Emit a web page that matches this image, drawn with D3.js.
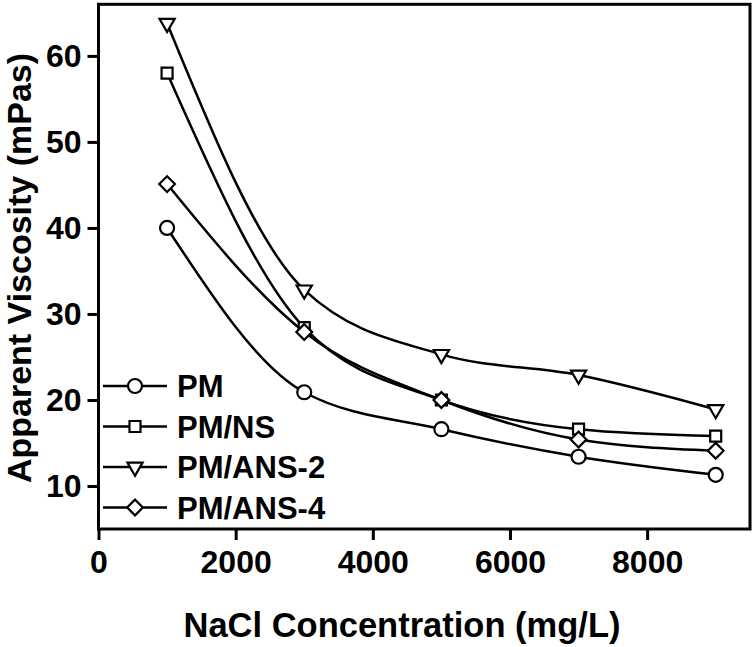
<!DOCTYPE html>
<html>
<head>
<meta charset="utf-8">
<script src="https://cdn.jsdelivr.net/npm/d3@7"></script>
<style>
  body { margin: 0; background: #fff; }
  svg { display: block; font-family: "Liberation Sans", Arial, sans-serif; font-weight: bold; }
  .axis text { font-size: 32px; font-weight: bold; fill: #000; }
  .axis line { stroke: #000; stroke-width: 3; }
</style>
</head>
<body>
<svg width="756" height="647"></svg>
<script>
// NaCl concentration (mg/L)
var concentrations = [1000, 3000, 5000, 7000, 9000];

// apparent viscosity (mPas) per sample
var pm      = [40.0, 20.9, 16.6, 13.4, 11.3];
var pmNs    = [58.0, 28.4, 20.0, 16.6, 15.8];
var pmAns2  = [63.8, 32.8, 25.3, 22.9, 18.9];
var pmAns4  = [45.1, 27.9, 20.0, 15.4, 14.1];

var seriesNames = ["PM", "PM/NS", "PM/ANS-2", "PM/ANS-4"];
var seriesValues = [pm, pmNs, pmAns2, pmAns4];

var xTicks = [0, 2000, 4000, 6000, 8000];
var yTicks = [10, 20, 30, 40, 50, 60];

var svg = d3.select("svg");

var x = d3.scaleLinear()
    .domain([0, 9500])
    .range([98.5, 750]);

var y = d3.scaleLinear()
    .domain([5, 66])
    .range([529, 4.3]);

// marker shapes, same order as seriesNames
var markers = [
  {type: d3.symbolCircle, size: 154, rotate: 0},
  {type: d3.symbolSquare, size: 121, rotate: 0},
  {type: d3.symbolTriangle, size: 100, rotate: 180},
  {type: d3.symbolSquare, size: 124, rotate: 45}
];

var line = d3.line()
    .x(function(d) { return x(d.x); })
    .y(function(d) { return y(d.y); })
    .curve(d3.curveMonotoneX);

// axes
svg.append("g")
    .attr("class", "axis")
    .attr("transform", "translate(0," + y.range()[0] + ")")
    .call(d3.axisBottom(x).tickValues(xTicks).tickFormat(d3.format("d"))
      .tickSize(11).tickSizeOuter(0).tickPadding(10))
    .call(function(g) { g.select(".domain").remove(); });

svg.append("g")
    .attr("class", "axis")
    .attr("transform", "translate(" + x.range()[0] + ",0)")
    .call(d3.axisLeft(y).tickValues(yTicks).tickFormat(d3.format("d"))
      .tickSize(11).tickSizeOuter(0).tickPadding(6))
    .call(function(g) { g.select(".domain").remove(); });

// frame
svg.append("rect")
    .attr("x", x.range()[0])
    .attr("y", y.range()[1])
    .attr("width", x.range()[1] - x.range()[0])
    .attr("height", y.range()[0] - y.range()[1])
    .attr("fill", "none")
    .attr("stroke", "#000")
    .attr("stroke-width", 3);

// curves
seriesValues.forEach(function(vals, i) {
  var pts = concentrations.map(function(c, j) { return {x: c, y: vals[j]}; });
  svg.append("path")
      .datum(pts)
      .attr("fill", "none")
      .attr("stroke", "#000")
      .attr("stroke-width", 2.5)
      .attr("d", line);
});

// markers on top
seriesValues.forEach(function(vals, i) {
  var m = markers[i];
  svg.append("g").selectAll("path")
      .data(concentrations)
    .enter().append("path")
      .attr("d", d3.symbol().type(m.type).size(m.size))
      .attr("transform", function(c, j) {
        return "translate(" + x(c) + "," + y(vals[j]) + ") rotate(" + m.rotate + ")";
      })
      .attr("fill", "#fff")
      .attr("stroke", "#000")
      .attr("stroke-width", 2.2);
});

// legend
var legend = svg.append("g").attr("transform", "translate(103,386)");
seriesNames.forEach(function(name, i) {
  var row = legend.append("g").attr("transform", "translate(0," + (i * 40.5) + ")");
  var m = markers[i];
  row.append("line")
      .attr("x1", 0).attr("x2", 64)
      .attr("stroke", "#000")
      .attr("stroke-width", 2.5);
  row.append("path")
      .attr("d", d3.symbol().type(m.type).size(m.size))
      .attr("transform", "translate(32,0) rotate(" + m.rotate + ")")
      .attr("fill", "#fff")
      .attr("stroke", "#000")
      .attr("stroke-width", 2.2);
  row.append("text")
      .attr("x", 74)
      .attr("dy", "0.36em")
      .attr("font-size", "31px")
      .text(name);
});

// axis titles
svg.append("text")
    .attr("x", 402)
    .attr("y", 637)
    .attr("text-anchor", "middle")
    .attr("font-size", "34.5px")
    .text("NaCl Concentration (mg/L)");

svg.append("text")
    .attr("transform", "translate(31,268) rotate(-90)")
    .attr("text-anchor", "middle")
    .attr("font-size", "34px")
    .text("Apparent Viscosity (mPas)");
</script>
</body>
</html>
